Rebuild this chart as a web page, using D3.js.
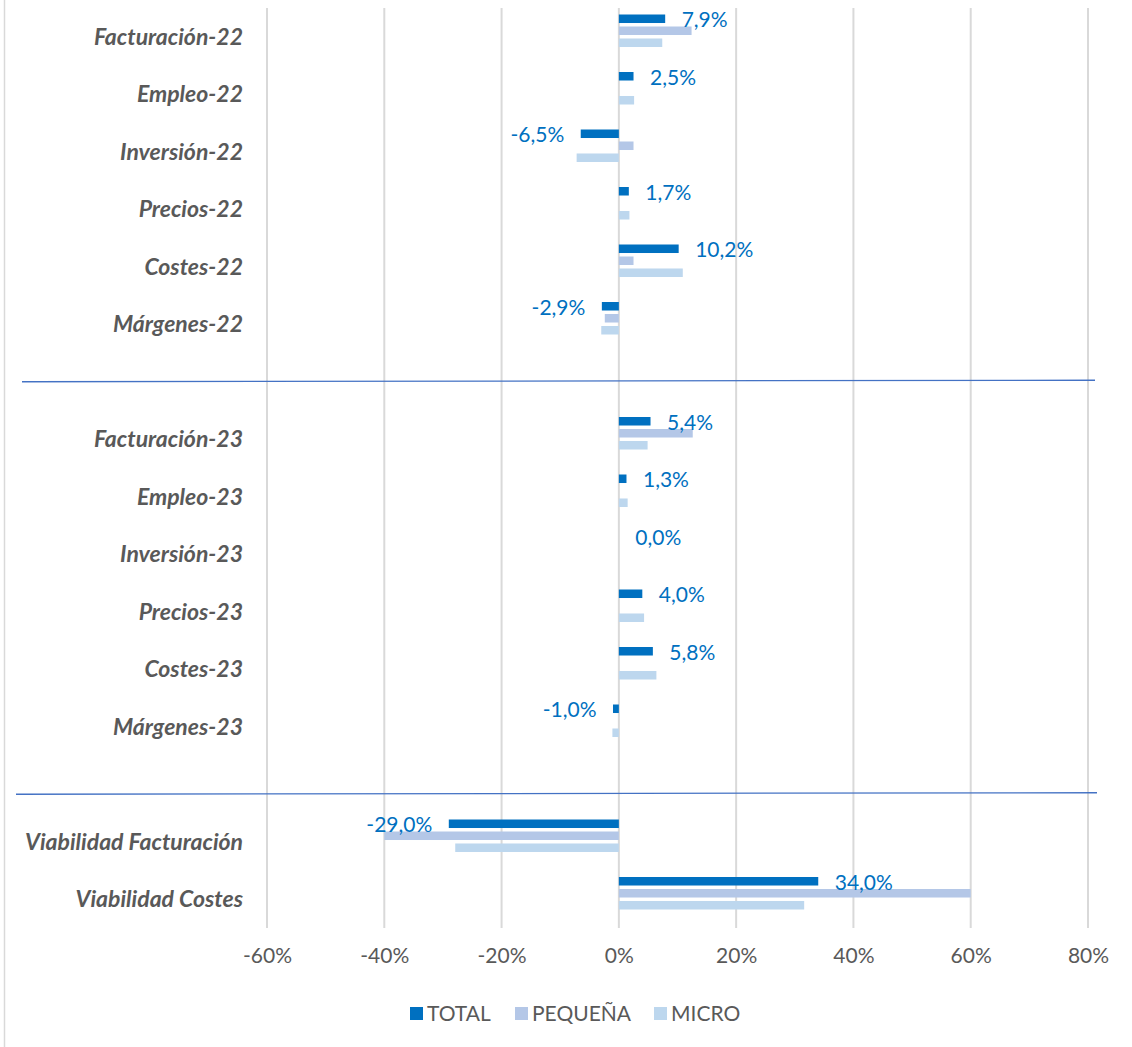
<!DOCTYPE html>
<html>
<head>
<meta charset="utf-8">
<script src="https://cdn.jsdelivr.net/npm/d3@7"></script>
<style>
  html, body { margin: 0; padding: 0; background: #ffffff; }
  svg { display: block; }
</style>
</head>
<body>
<div id="chart"></div>
<script>
// ---- Data ----
const categories = [
  "Facturación-22", "Empleo-22", "Inversión-22", "Precios-22", "Costes-22", "Márgenes-22",
  "__sep1",
  "Facturación-23", "Empleo-23", "Inversión-23", "Precios-23", "Costes-23", "Márgenes-23",
  "__sep2",
  "Viabilidad Facturación", "Viabilidad Costes"
];
const seriesNames = ["TOTAL", "PEQUEÑA", "MICRO"];
const totalValues = [7.9, 2.5, -6.5, 1.7, 10.2, -2.9, null, 5.4, 1.3, 0.0, 4.0, 5.8, -1.0, null, -29.0, 34.0];
const pequenaValues = [12.4, 0, 2.5, 0, 2.5, -2.4, null, 12.6, 0, 0, 0, 0, 0, null, -40.0, 60.0];
const microValues = [7.4, 2.6, -7.2, 1.8, 10.9, -3.0, null, 4.9, 1.5, 0, 4.3, 6.4, -1.1, null, -27.9, 31.6];
const tickValues = [-60, -40, -20, 0, 20, 40, 60, 80];
const seriesColors = ["#0070C0", "#B4C7E7", "#BDD7EE"];

const valuesBySeries = [totalValues, pequenaValues, microValues];

// ---- Layout ----
const W = 1132, H = 1047;
const FONT = "Lato, 'Open Sans', sans-serif";
const svg = d3.select("#chart").append("svg").attr("width", W).attr("height", H);
svg.append("rect").attr("width", W).attr("height", H).attr("fill", "#ffffff");

// chart border (left edge visible)
svg.append("line").attr("x1", 4.5).attr("x2", 4.5).attr("y1", 0).attr("y2", H)
  .attr("stroke", "#D9D9D9").attr("stroke-width", 1.5);

const x = d3.scaleLinear().domain([-60, 80]).range([267, 1088]);
const y = d3.scaleBand().domain(categories).range([8, 928]).padding(0);
// four sub-slots per category (last one is an empty slot, as in the source)
const inner = d3.scaleBand().domain([...seriesNames, "_"]).range([-22.25, 22.25]).paddingInner(0.29);

// gridlines
svg.append("g").selectAll("line").data(tickValues).join("line")
  .attr("x1", d => x(d)).attr("x2", d => x(d))
  .attr("y1", 8).attr("y2", 928)
  .attr("stroke", "#D9D9D9").attr("stroke-width", 2);

// x axis tick labels
const xAxis = d3.axisBottom(x).tickValues(tickValues).tickSize(0).tickFormat(d => d + "%");
const gx = svg.append("g").attr("transform", "translate(0,945)").call(xAxis);
gx.select(".domain").remove();
gx.selectAll("text").attr("font-family", FONT).attr("font-size", 21)
  .attr("fill", "#595959").attr("dy", "0.71em");

// category labels
const yAxis = d3.axisLeft(y).tickSize(0).tickFormat(d => d.startsWith("__") ? "" : d);
const gy = svg.append("g").attr("transform", "translate(243,0)").call(yAxis);
gy.select(".domain").remove();
gy.selectAll("text").attr("font-family", FONT).attr("font-size", 23)
  .attr("font-weight", "bold").attr("font-style", "italic")
  .attr("fill", "#595959").attr("x", 0).attr("dy", "0.35em");

// bars
seriesNames.forEach((s, si) => {
  const vals = valuesBySeries[si];
  const data = categories.map((c, i) => ({ c, v: vals[i] })).filter(d => d.v !== null && d.v !== 0);
  svg.append("g").selectAll("rect").data(data).join("rect")
    .attr("x", d => Math.min(x(0), x(d.v)))
    .attr("width", d => Math.abs(x(d.v) - x(0)))
    .attr("y", d => y(d.c) + y.bandwidth() / 2 + inner(s))
    .attr("height", inner.bandwidth())
    .attr("fill", seriesColors[si]);
});

// data labels for TOTAL
const fmt = v => d3.format(".1f")(v).replace(".", ",").replace("−", "-") + "%";
const labelData = categories.map((c, i) => ({ c, v: totalValues[i] })).filter(d => d.v !== null);
svg.append("g").selectAll("text").data(labelData).join("text")
  .attr("x", d => d.v < 0 ? x(d.v) - 16.5 : x(d.v) + 16.5)
  .attr("y", d => y(d.c) + y.bandwidth() / 2 + inner("TOTAL") + inner.bandwidth() / 2 + 1)
  .attr("dy", "0.35em")
  .attr("text-anchor", d => d.v < 0 ? "end" : "start")
  .attr("font-family", FONT).attr("font-size", 21)
  .attr("fill", "#0070C0")
  .text(d => fmt(d.v));

// separator lines between blocks
svg.append("line").attr("x1", 22).attr("y1", y("__sep1") + y.bandwidth() / 2)
  .attr("x2", 1095).attr("y2", y("__sep1") + y.bandwidth() / 2 - 1.5)
  .attr("stroke", "#4472C4").attr("stroke-width", 1.3);
svg.append("line").attr("x1", 16).attr("y1", y("__sep2") + y.bandwidth() / 2 + 10)
  .attr("x2", 1097).attr("y2", y("__sep2") + y.bandwidth() / 2 + 8.5)
  .attr("stroke", "#4472C4").attr("stroke-width", 1.3);

// legend
const legendX = [410, 515, 654];
const lg = svg.append("g");
seriesNames.forEach((s, i) => {
  lg.append("rect").attr("x", legendX[i]).attr("y", 1007).attr("width", 13).attr("height", 13)
    .attr("fill", seriesColors[i]);
  lg.append("text").attr("x", legendX[i] + 17).attr("y", 1013.5).attr("dy", "0.35em")
    .attr("font-family", FONT).attr("font-size", 21).attr("fill", "#595959").text(s);
});
</script>
</body>
</html>
